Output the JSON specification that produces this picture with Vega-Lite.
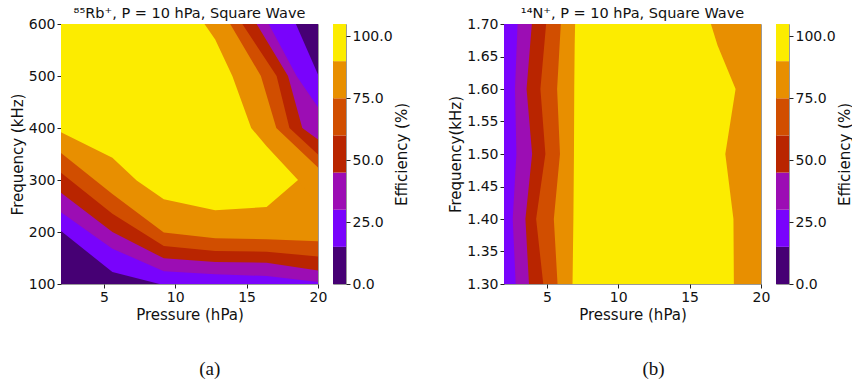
{
  "$schema": "https://vega.github.io/schema/vega-lite/v6.json",
  "background": "white",
  "padding": {"left": 9, "top": 5, "right": 0, "bottom": 5},
  "datasets": {
    "ra": [
      {"b":"c6","g":"bg","x":2,"y":600,"y2":100},{"b":"c6","g":"bg","x":20,"y":600,"y2":100},
      {"b":"c5","g":"lo","x":2,"y":392,"y2":100},{"b":"c5","g":"lo","x":5.6,"y":343,"y2":100},{"b":"c5","g":"lo","x":7.3,"y":299,"y2":100},{"b":"c5","g":"lo","x":9.2,"y":263,"y2":100},{"b":"c5","g":"lo","x":12.8,"y":242,"y2":100},{"b":"c5","g":"lo","x":16.4,"y":248,"y2":100},{"b":"c5","g":"lo","x":18.6,"y":300,"y2":100},{"b":"c5","g":"lo","x":20,"y":300,"y2":100},
      {"b":"c5","g":"up","x":12.05,"y":600,"y2":600},{"b":"c5","g":"up","x":12.8,"y":570,"y2":600},{"b":"c5","g":"up","x":14,"y":500,"y2":600},{"b":"c5","g":"up","x":15.32,"y":400,"y2":600},{"b":"c5","g":"up","x":16.4,"y":365,"y2":600},{"b":"c5","g":"up","x":18.6,"y":300,"y2":600},{"b":"c5","g":"up","x":20,"y":250,"y2":600},
      {"b":"c4","g":"lo","x":2,"y":352,"y2":100},{"b":"c4","g":"lo","x":5.6,"y":273,"y2":100},{"b":"c4","g":"lo","x":9.2,"y":199,"y2":100},{"b":"c4","g":"lo","x":12.8,"y":188,"y2":100},{"b":"c4","g":"lo","x":16.4,"y":186,"y2":100},{"b":"c4","g":"lo","x":20,"y":182,"y2":100},
      {"b":"c4","g":"up","x":13.85,"y":600,"y2":600},{"b":"c4","g":"up","x":16,"y":500,"y2":600},{"b":"c4","g":"up","x":17.08,"y":400,"y2":600},{"b":"c4","g":"up","x":20,"y":324,"y2":600},
      {"b":"c3","g":"lo","x":2,"y":314,"y2":100},{"b":"c3","g":"lo","x":5.6,"y":235,"y2":100},{"b":"c3","g":"lo","x":9.2,"y":173,"y2":100},{"b":"c3","g":"lo","x":12.8,"y":163.5,"y2":100},{"b":"c3","g":"lo","x":16.4,"y":162,"y2":100},{"b":"c3","g":"lo","x":20,"y":153,"y2":100},
      {"b":"c3","g":"up","x":14.7,"y":600,"y2":600},{"b":"c3","g":"up","x":17.1,"y":500,"y2":600},{"b":"c3","g":"up","x":18,"y":400,"y2":600},{"b":"c3","g":"up","x":20,"y":349,"y2":600},
      {"b":"c2","g":"lo","x":2,"y":275.6,"y2":100},{"b":"c2","g":"lo","x":5.6,"y":200,"y2":100},{"b":"c2","g":"lo","x":9.2,"y":149.4,"y2":100},{"b":"c2","g":"lo","x":12.8,"y":142.3,"y2":100},{"b":"c2","g":"lo","x":16.4,"y":141,"y2":100},{"b":"c2","g":"lo","x":20,"y":126,"y2":100},
      {"b":"c2","g":"up","x":15.7,"y":600,"y2":600},{"b":"c2","g":"up","x":17.9,"y":500,"y2":600},{"b":"c2","g":"up","x":18.9,"y":400,"y2":600},{"b":"c2","g":"up","x":20,"y":378,"y2":600},
      {"b":"c1","g":"lo","x":2,"y":238,"y2":100},{"b":"c1","g":"lo","x":5.6,"y":168,"y2":100},{"b":"c1","g":"lo","x":9.2,"y":124.5,"y2":100},{"b":"c1","g":"lo","x":12.8,"y":118.6,"y2":100},{"b":"c1","g":"lo","x":16.4,"y":115.4,"y2":100},{"b":"c1","g":"lo","x":20,"y":104,"y2":100},
      {"b":"c1","g":"up","x":16.55,"y":600,"y2":600},{"b":"c1","g":"up","x":18.5,"y":500,"y2":600},{"b":"c1","g":"up","x":20,"y":440,"y2":600},
      {"b":"c0","g":"lo","x":2,"y":202,"y2":100},{"b":"c0","g":"lo","x":5.6,"y":123,"y2":100},{"b":"c0","g":"lo","x":8.9,"y":100,"y2":100},
      {"b":"c0","g":"up","x":18.45,"y":600,"y2":600},{"b":"c0","g":"up","x":20,"y":503,"y2":600}
    ],
    "rb": [
      {"b":"c5","y":1.3,"x":2,"x2":20},{"b":"c5","y":1.7,"x":2,"x2":20},
      {"b":"c6","y":1.3,"x":6.8,"x2":18.1},{"b":"c6","y":1.4,"x":6.86,"x2":18.07},{"b":"c6","y":1.5,"x":6.9,"x2":17.5},{"b":"c6","y":1.6,"x":6.92,"x2":18.22},{"b":"c6","y":1.667,"x":6.95,"x2":16.96},{"b":"c6","y":1.7,"x":6.98,"x2":16.49},
      {"b":"c4","y":1.3,"x":2,"x2":5.75},{"b":"c4","y":1.4,"x":2,"x2":5.49},{"b":"c4","y":1.5,"x":2,"x2":5.92},{"b":"c4","y":1.6,"x":2,"x2":5.72},{"b":"c4","y":1.7,"x":2,"x2":5.98},
      {"b":"c3","y":1.3,"x":2,"x2":4.75},{"b":"c3","y":1.4,"x":2,"x2":4.25},{"b":"c3","y":1.5,"x":2,"x2":4.9},{"b":"c3","y":1.6,"x":2,"x2":4.55},{"b":"c3","y":1.7,"x":2,"x2":4.95},
      {"b":"c2","y":1.3,"x":2,"x2":3.75},{"b":"c2","y":1.4,"x":2,"x2":3.5},{"b":"c2","y":1.5,"x":2,"x2":3.97},{"b":"c2","y":1.6,"x":2,"x2":3.58},{"b":"c2","y":1.7,"x":2,"x2":3.95},
      {"b":"c1","y":1.3,"x":2,"x2":2.82},{"b":"c1","y":1.4,"x":2,"x2":2.61},{"b":"c1","y":1.5,"x":2,"x2":2.87},{"b":"c1","y":1.6,"x":2,"x2":2.77},{"b":"c1","y":1.7,"x":2,"x2":2.95}
    ],
    "cb": [
      {"lo":0,"hi":15,"b":"c0"},{"lo":15,"hi":30,"b":"c1"},{"lo":30,"hi":45,"b":"c2"},{"lo":45,"hi":60,"b":"c3"},{"lo":60,"hi":75,"b":"c4"},{"lo":75,"hi":90,"b":"c5"},{"lo":90,"hi":105,"b":"c6"}
    ]
  },
  "config": {
    "font": "DejaVu Sans",
    "view": {"stroke": "#9a9a9a", "strokeWidth": 1},
    "axis": {"labelFont": "DejaVu Sans", "labelFontSize": 14, "labelColor": "#111", "titleFont": "DejaVu Sans", "titleFontSize": 15, "titleFontWeight": "normal", "titleColor": "#111", "domain": false, "grid": false, "ticks": true, "tickSize": 4, "tickColor": "#222", "labelPadding": 2, "titlePadding": 3, "labelFlush": false, "labelOverlap": false},
    "title": {"font": "DejaVu Sans", "fontSize": 14.5, "fontWeight": "normal", "color": "#111", "offset": -4, "frame": "group"},
    "area": {"strokeWidth": 0}
  },
  "spacing": 38,
  "hconcat": [
    {
      "title": {"text": "(a)", "orient": "bottom", "font": "Liberation Serif", "fontSize": 19, "fontWeight": "normal", "offset": 37, "anchor": "middle", "frame": "bounds", "dx": 0},
      "bounds": "flush",
      "spacing": 15,
      "hconcat": [
        {
          "width": 257, "height": 260,
          "title": {"text": "⁸⁵Rb⁺, P = 10 hPa, Square Wave"},
          "data": {"name": "ra"},
          "encoding": {
            "x": {"field": "x", "type": "quantitative", "scale": {"domain": [2, 20], "nice": false, "zero": false}, "axis": {"values": [5, 10, 15, 20], "title": "Pressure (hPa)"}},
            "y": {"field": "y", "type": "quantitative", "stack": null, "scale": {"domain": [100, 600], "nice": false, "zero": false}, "axis": {"values": [100, 200, 300, 400, 500, 600], "title": "Frequency (kHz)"}},
            "y2": {"field": "y2"},
            "color": {"field": "b", "type": "nominal", "scale": {"domain": ["c0","c1","c2","c3","c4","c5","c6"], "range": ["#460074","#7903fc","#9c0db4","#b92500","#d14e00","#e88f00","#fcec00"]}, "legend": null},
            "detail": {"field": "g", "type": "nominal"}
          },
          "layer": [
            {"transform": [{"filter": "datum.b === 'c6'"}], "mark": {"type": "area", "orient": "vertical"}},
            {"transform": [{"filter": "datum.b === 'c5'"}], "mark": {"type": "area", "orient": "vertical"}},
            {"transform": [{"filter": "datum.b === 'c4'"}], "mark": {"type": "area", "orient": "vertical"}},
            {"transform": [{"filter": "datum.b === 'c3'"}], "mark": {"type": "area", "orient": "vertical"}},
            {"transform": [{"filter": "datum.b === 'c2'"}], "mark": {"type": "area", "orient": "vertical"}},
            {"transform": [{"filter": "datum.b === 'c1'"}], "mark": {"type": "area", "orient": "vertical"}},
            {"transform": [{"filter": "datum.b === 'c0'"}], "mark": {"type": "area", "orient": "vertical"}}
          ]
        },
        {
          "width": 13, "height": 260,
          "data": {"name": "cb"},
          "mark": "rect",
          "encoding": {
            "y": {"field": "lo", "type": "quantitative", "scale": {"domain": [0, 105], "nice": false, "zero": false}, "axis": {"orient": "right", "values": [0, 25, 50, 75, 100], "format": ".1f", "title": "Efficiency (%)", "titleAngle": 270, "titleBaseline": "top", "titlePadding": 2}},
            "y2": {"field": "hi"},
            "color": {"field": "b", "type": "nominal", "scale": {"domain": ["c0","c1","c2","c3","c4","c5","c6"], "range": ["#460074","#7903fc","#9c0db4","#b92500","#d14e00","#e88f00","#fcec00"]}, "legend": null}
          }
        }
      ]
    },
    {
      "title": {"text": "(b)", "orient": "bottom", "font": "Liberation Serif", "fontSize": 19, "fontWeight": "normal", "offset": 37, "anchor": "middle", "frame": "bounds", "dx": 3},
      "bounds": "flush",
      "spacing": 15,
      "hconcat": [
        {
          "width": 257, "height": 260,
          "title": {"text": "¹⁴N⁺, P = 10 hPa, Square Wave"},
          "data": {"name": "rb"},
          "encoding": {
            "y": {"field": "y", "type": "quantitative", "scale": {"domain": [1.3, 1.7], "nice": false, "zero": false}, "axis": {"values": [1.3, 1.35, 1.4, 1.45, 1.5, 1.55, 1.6, 1.65, 1.7], "format": ".2f", "title": "Frequency(kHz)"}},
            "x": {"field": "x", "type": "quantitative", "stack": null, "scale": {"domain": [2, 20], "nice": false, "zero": false}, "axis": {"values": [5, 10, 15, 20], "title": "Pressure (hPa)"}},
            "x2": {"field": "x2"},
            "color": {"field": "b", "type": "nominal", "scale": {"domain": ["c0","c1","c2","c3","c4","c5","c6"], "range": ["#460074","#7903fc","#9c0db4","#b92500","#d14e00","#e88f00","#fcec00"]}, "legend": null}
          },
          "layer": [
            {"transform": [{"filter": "datum.b === 'c5'"}], "mark": {"type": "area", "orient": "horizontal"}},
            {"transform": [{"filter": "datum.b === 'c6'"}], "mark": {"type": "area", "orient": "horizontal"}},
            {"transform": [{"filter": "datum.b === 'c4'"}], "mark": {"type": "area", "orient": "horizontal"}},
            {"transform": [{"filter": "datum.b === 'c3'"}], "mark": {"type": "area", "orient": "horizontal"}},
            {"transform": [{"filter": "datum.b === 'c2'"}], "mark": {"type": "area", "orient": "horizontal"}},
            {"transform": [{"filter": "datum.b === 'c1'"}], "mark": {"type": "area", "orient": "horizontal"}}
          ]
        },
        {
          "width": 13, "height": 260,
          "data": {"name": "cb"},
          "mark": "rect",
          "encoding": {
            "y": {"field": "lo", "type": "quantitative", "scale": {"domain": [0, 105], "nice": false, "zero": false}, "axis": {"orient": "right", "values": [0, 25, 50, 75, 100], "format": ".1f", "title": "Efficiency (%)", "titleAngle": 270, "titleBaseline": "top", "titlePadding": 2}},
            "y2": {"field": "hi"},
            "color": {"field": "b", "type": "nominal", "scale": {"domain": ["c0","c1","c2","c3","c4","c5","c6"], "range": ["#460074","#7903fc","#9c0db4","#b92500","#d14e00","#e88f00","#fcec00"]}, "legend": null}
          }
        }
      ]
    }
  ]
}
